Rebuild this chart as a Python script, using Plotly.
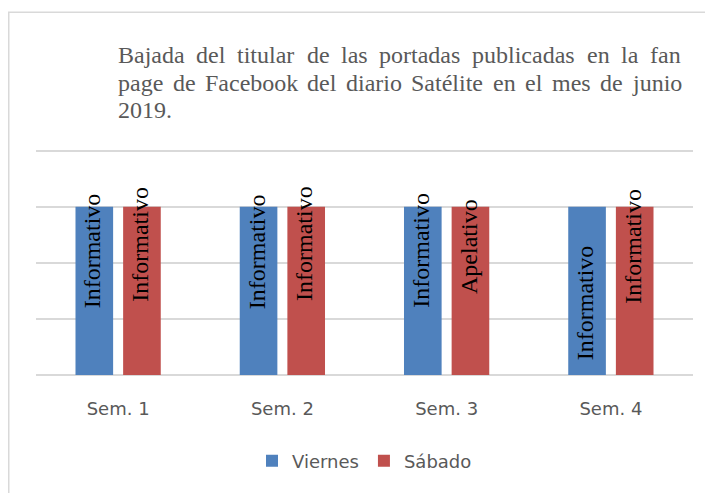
import plotly.graph_objects as go

# ---- data ----
categories = ["Sem. 1", "Sem. 2", "Sem. 3", "Sem. 4"]
viernes_values = [3, 3, 3, 3]
sabado_values = [3, 3, 3, 3]
viernes_labels = ["Informativo", "Informativo", "Informativo", "Informativo"]
sabado_labels = ["Informativo", "Informativo", "Apelativo", "Informativo"]
# label centre positions (in axis units) as placed in the original chart
viernes_label_y = [2.21, 2.20, 2.23, 1.28]
sabado_label_y = [2.34, 2.34, 2.29, 2.30]
title_lines = [
    "Bajada del titular de las portadas publicadas en la fan",
    "page de Facebook del diario Satélite en el mes de junio",
    "2019.",
]
y_ticks = [0, 1, 2, 3, 4]

# ---- layout constants ----
OFF = 8                      # page body margin of the html page
W, H = 713 - OFF, 493 - OFF
YMAX = 4.1
UNIT = 56                    # px per axis unit
PW, PH = 657, UNIT * YMAX
ML = 36 - OFF
BOTTOM = 375 - OFF           # plot bottom (y=0) in figure pixels
MT = BOTTOM - PH
MR, MB = W - ML - PW, H - BOTTOM
BARGAP = 0.42
BLUE, RED = "#4F81BD", "#C0504D"
GRID = "#D9D9D9"
GRAY = "#595959"
SERIF = "Liberation Serif, Times New Roman, serif"
SANS = "DejaVu Sans, sans-serif"


def px_x(px):
    return (px - OFF - ML) / PW


def px_y(py):
    return (BOTTOM - (py - OFF)) / PH


fig = go.Figure()
fig.add_trace(go.Bar(name="Viernes", x=categories, y=viernes_values,
                     marker=dict(color=BLUE, line=dict(width=0))))
fig.add_trace(go.Bar(name="Sábado", x=categories, y=sabado_values,
                     marker=dict(color=RED, line=dict(width=0))))

annotations = []
# bar labels, rotated
cat_w = PW / len(categories)
slot = cat_w * (1 - BARGAP) / 2
for i, c in enumerate(categories):
    for lab, ly, sh in ((viernes_labels[i], viernes_label_y[i], -slot / 2),
                        (sabado_labels[i], sabado_label_y[i], slot / 2)):
        annotations.append(dict(
            x=c, y=ly, xref="x", yref="y", text=lab, textangle=-90,
            showarrow=False, xanchor="center", yanchor="middle",
            xshift=sh - 2,
            font=dict(family=SERIF, size=24, color="#000000")))

# justified title made of words
TFS = 24
cw = {' ': 250, '.': 250, '0': 500, '1': 500, '2': 500, '9': 500, 'B': 667,
      'F': 556, 'S': 556, 'a': 444, 'b': 500, 'c': 444, 'd': 500, 'e': 444,
      'é': 444, 'f': 333, 'g': 500, 'i': 278, 'j': 278, 'k': 500, 'l': 278,
      'm': 778, 'n': 500, 'o': 500, 'p': 500, 'r': 333, 's': 389, 't': 278,
      'u': 500}


def wwidth(w):
    return sum(cw.get(ch, 500) for ch in w) / 1000 * TFS


PADX = 2
x_left, x_right = 118 - PADX, 681 - PADX
line_y = [56, 84, 110]
for li, line in enumerate(title_lines):
    words = line.split(" ")
    if li < len(title_lines) - 1 and len(words) > 1:
        total = sum(wwidth(w) for w in words)
        gap = (x_right - x_left - total) / (len(words) - 1)
    else:
        gap = wwidth(" ")
    x = x_left
    for w in words:
        annotations.append(dict(
            x=px_x(x), y=px_y(line_y[li]), xref="paper", yref="paper",
            text=w, showarrow=False, xanchor="left", yanchor="middle",
            font=dict(family=SERIF, size=TFS, color=GRAY)))
        x += wwidth(w) + gap

fig.update_layout(
    width=W, height=H,
    margin=dict(l=ML, r=MR, t=MT, b=MB, pad=0),
    paper_bgcolor="white", plot_bgcolor="white",
    barmode="group", bargap=BARGAP, bargroupgap=0.21,
    showlegend=True,
    legend=dict(orientation="h", x=0.5, xanchor="center",
                y=px_y(461), yanchor="middle",
                font=dict(family=SANS, size=18, color=GRAY),
                bgcolor="rgba(0,0,0,0)"),
    xaxis=dict(showgrid=False, zeroline=False, showline=False, ticks="",
               tickfont=dict(family=SANS, size=18, color=GRAY),
               ticklabelstandoff=21),
    yaxis=dict(range=[0, YMAX], tickvals=y_ticks, showgrid=True,
               gridcolor=GRID, gridwidth=1.5, zeroline=True,
               zerolinecolor=GRID, zerolinewidth=1.5,
               showticklabels=False, ticks=""),
    annotations=annotations,
    shapes=[dict(type="rect", xref="paper", yref="paper",
                 x0=px_x(8.75), x1=px_x(740), y0=px_y(520), y1=px_y(13),
                 line=dict(color=GRID, width=1.5), layer="below")],
)

fig.write_html("out.html")
